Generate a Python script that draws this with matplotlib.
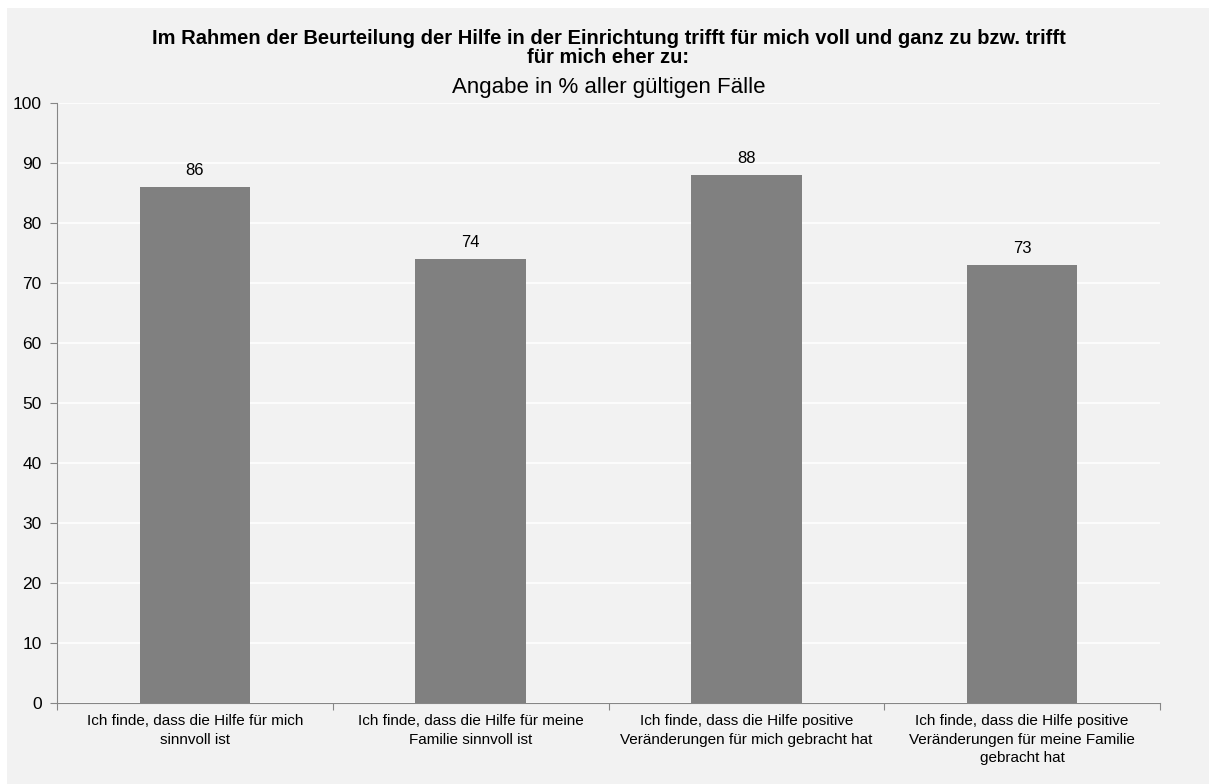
import numpy as np
import matplotlib.pyplot as plt
from matplotlib.patches import Rectangle

categories = [
    "Ich finde, dass die Hilfe für mich\nsinnvoll ist",
    "Ich finde, dass die Hilfe für meine\nFamilie sinnvoll ist",
    "Ich finde, dass die Hilfe positive\nVeränderungen für mich gebracht hat",
    "Ich finde, dass die Hilfe positive\nVeränderungen für meine Familie\ngebracht hat",
]
values = [86, 74, 88, 73]
yticks = np.arange(0, 101, 10)

plt.rcParams['font.family'] = ['Liberation Sans', 'DejaVu Sans']

W, H = 1209, 784
fig = plt.figure(figsize=(W/100, H/100), dpi=100, facecolor='white')
fig.patches.append(Rectangle((7/W, 0), 1, 1 - 8/H, transform=fig.transFigure,
                             facecolor='#f2f2f2', edgecolor='none', zorder=-10))

ax = fig.add_axes([57/W, 1 - 703/H, (1160-57)/W, (703-103)/H])
ax.set_facecolor('#f2f2f2')
x = np.arange(len(values))
bars = ax.bar(x, values, width=0.4, color='#808080', zorder=3)
for xi, v in zip(x, values):
    ax.text(xi, v + 2.8, str(v), ha='center', va='center', fontsize=12)

ax.set_xlim(-0.5, 3.5)
ax.set_ylim(0, 100)
ax.set_yticks(yticks)
ax.set_yticklabels([str(t) for t in yticks], fontsize=12.5)
ax.set_xticks(np.arange(-0.5, 4, 1))
ax.set_xticklabels([])
ax.set_xticks(x, minor=True)
ax.set_xticklabels(categories, minor=True, fontsize=11, linespacing=1.4)
ax.tick_params(axis='x', which='minor', length=0, pad=8)
ax.tick_params(axis='x', which='major', length=5, color='#868686')
ax.tick_params(axis='y', length=5, color='#868686', pad=6)
ax.grid(axis='y', color='white', linewidth=1.2, zorder=0)
for s in ['top', 'right']:
    ax.spines[s].set_visible(False)
for s in ['left', 'bottom']:
    ax.spines[s].set_color('#868686')

fig.text((57+1160)/2/W, 1 - 48/H,
         "Im Rahmen der Beurteilung der Hilfe in der Einrichtung trifft für mich voll und ganz zu bzw. trifft\nfür mich eher zu:",
         ha='center', va='center', fontsize=14.5, fontweight='bold', linespacing=1.05)
fig.text((57+1160)/2/W, 1 - 88/H, "Angabe in % aller gültigen Fälle",
         ha='center', va='center', fontsize=16)

fig.savefig('out.png', dpi=100, facecolor='white')
